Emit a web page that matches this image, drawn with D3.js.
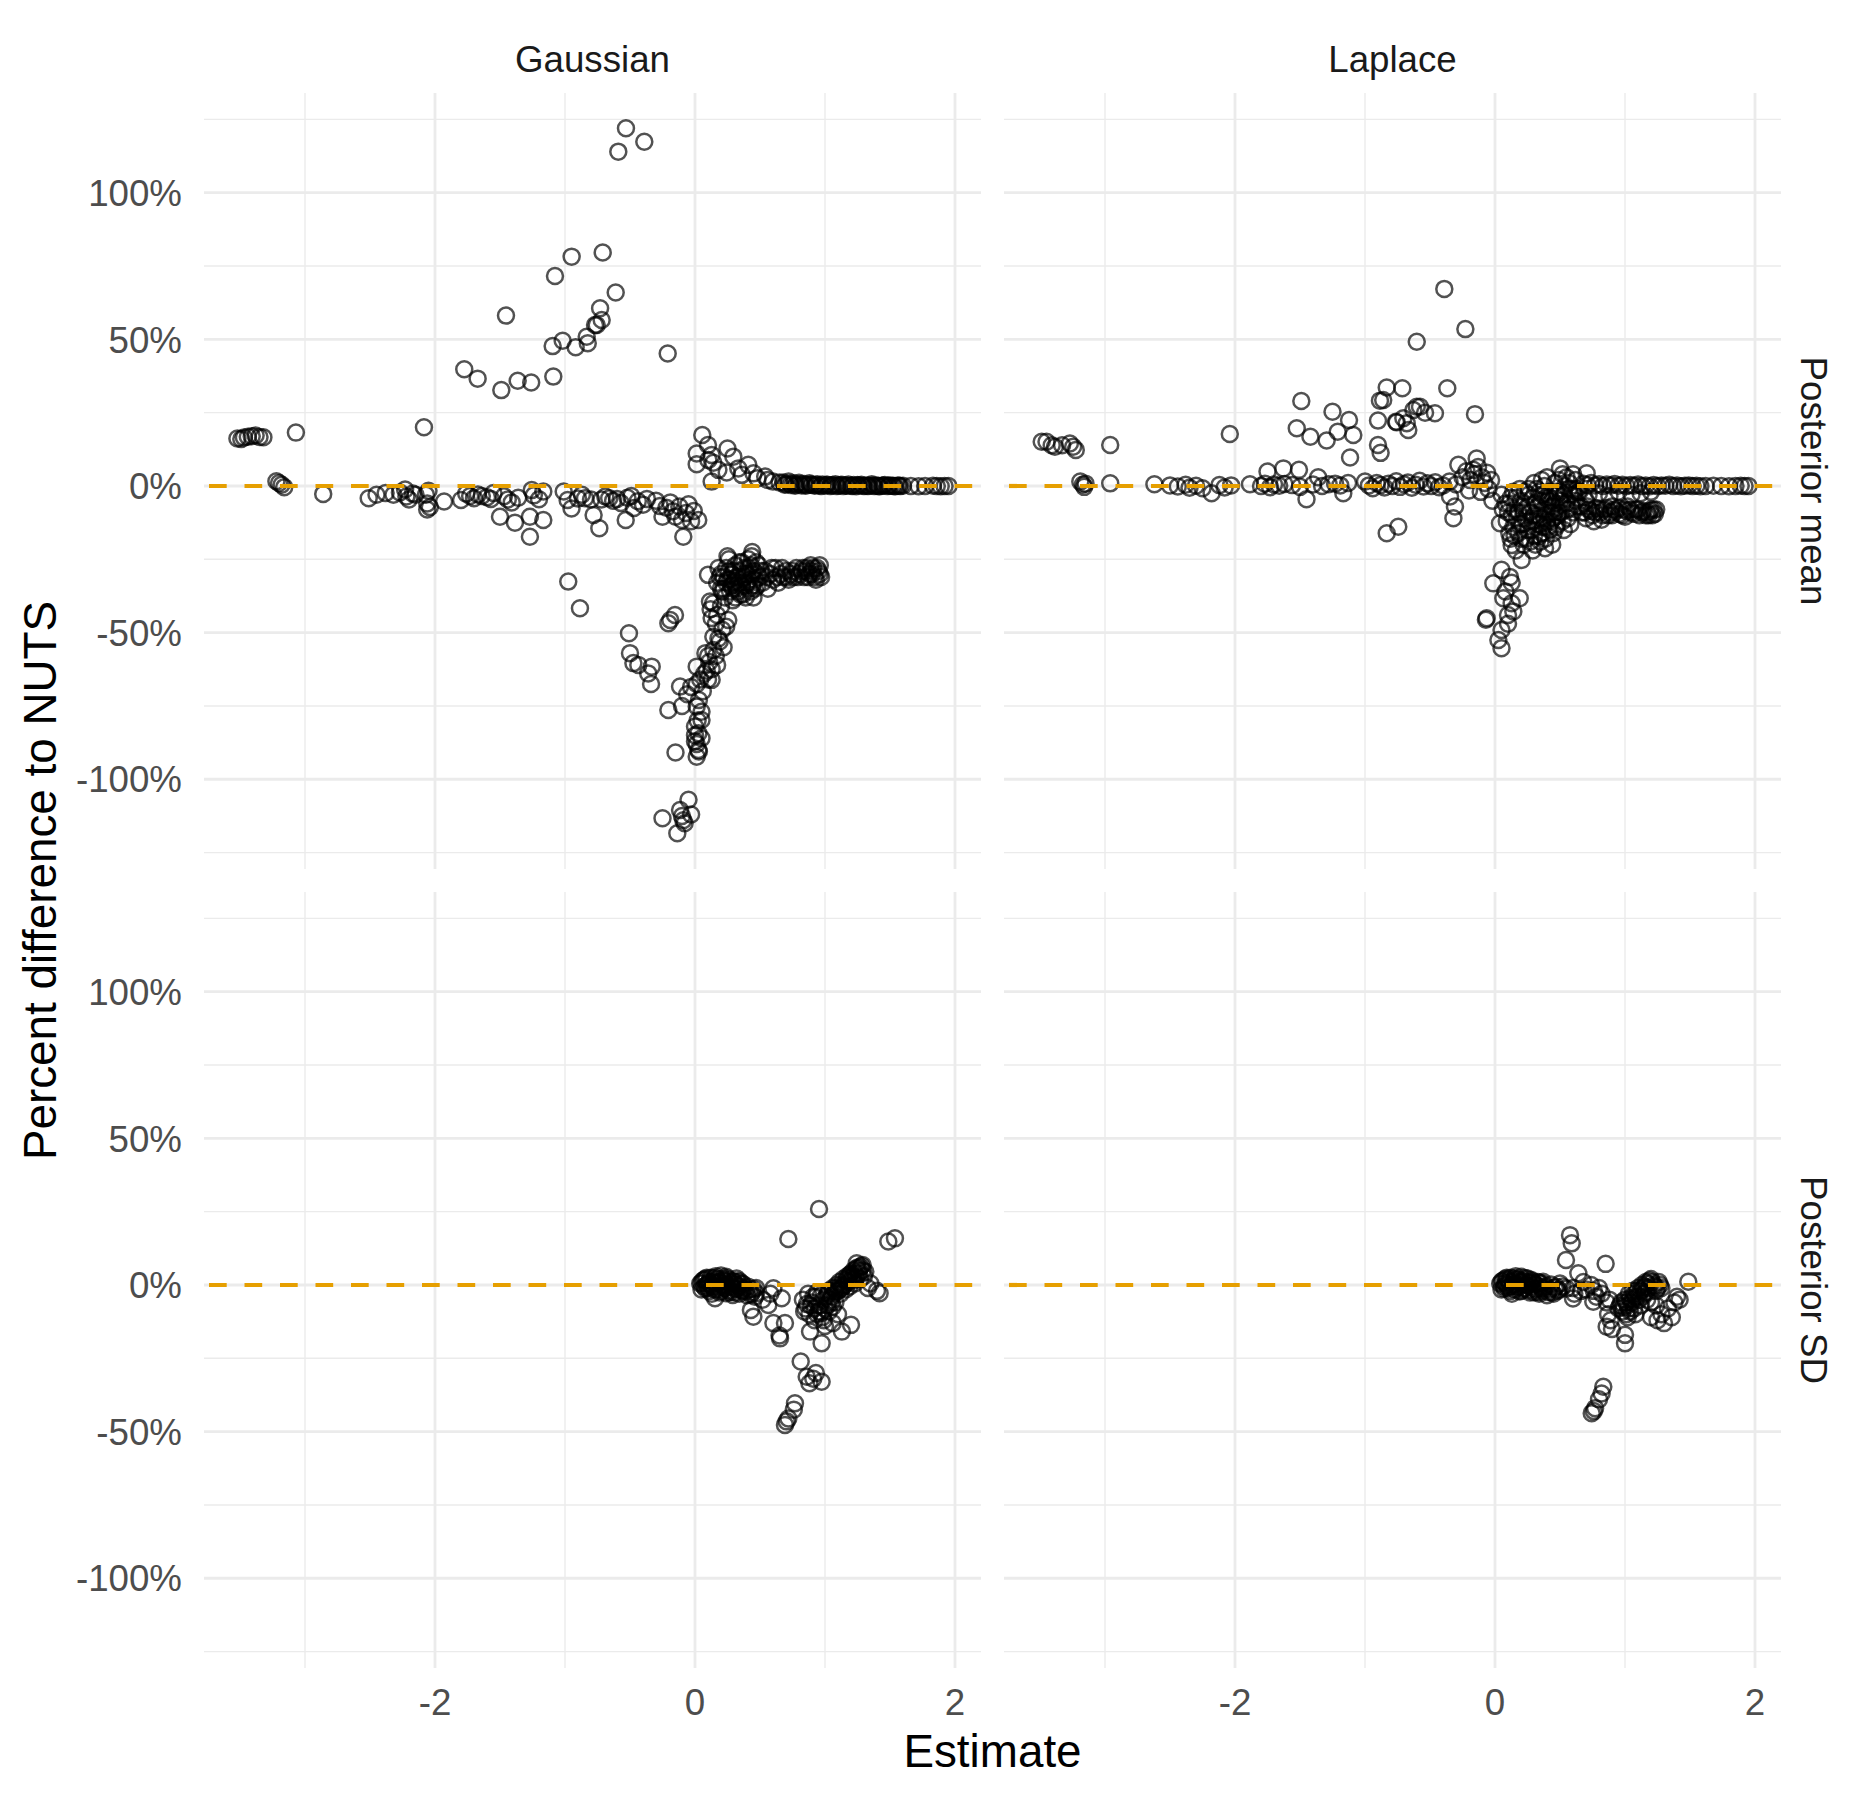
<!DOCTYPE html>
<html>
<head>
<meta charset="utf-8">
<script src="https://cdn.jsdelivr.net/npm/d3@7"></script>
<style>
  html, body { margin: 0; padding: 0; background: #fff; }
  text { font-family: "Liberation Sans", Arial, Helvetica, sans-serif; }
</style>
</head>
<body>
<svg id="chart" width="1875" height="1800"></svg>
<script>
// ---------------- data ----------------
const methods = ["Gaussian", "Laplace"];
const stats = ["Posterior mean", "Posterior SD"];
const xBreaks = [-2, 0, 2];
const xLabels = ["-2", "0", "2"];
const xMinor = [-3, -1, 1];
const yBreaks = [-100, -50, 0, 50, 100];
const yLabels = ["-100%", "-50%", "0%", "50%", "100%"];
const yMinor = [-125, -75, -25, 25, 75, 125];
const refLine = 0;

// [estimate, percent difference]
const gaussianMean = [
  [-3.52,16.2],[-3.49,16.0],[-3.47,16.5],[-3.44,16.8],[-3.41,17.0],[-3.38,17.2],[-3.35,16.7],[-3.32,16.6],[-3.07,18.2],
  [-3.22,1.6],[-3.20,1.0],[-3.18,0.4],[-3.16,-0.4],[-2.86,-2.7],[-2.085,20.0],
  [-1.775,39.8],[-1.672,36.6],[-1.49,32.7],[-1.454,58.1],[-1.364,35.9],[-1.26,35.3],[-1.09,37.3],[-1.077,71.6],[-0.949,78.2],
  [-1.095,47.7],[-1.018,49.5],[-0.918,47.3],[-0.833,50.9],[-0.825,48.7],[-0.769,54.9],[-0.73,60.6],[-0.71,79.6],[-0.59,114],
  [-0.531,122],[-0.39,117.4],[-0.61,66],[-0.718,56.6],[-0.756,54.9],[-0.21,45.2],
  [-2.51,-4.2],[-2.45,-3.0],[-2.38,-2.4],[-2.32,-3.0],[-2.27,-2.2],[-2.23,-1.2],[-2.22,-3.6],[-2.20,-4.6],[-2.17,-2.6],[-2.15,-3.0],
  [-2.07,-3.0],[-2.06,-6.0],[-2.06,-8.0],[-2.04,-7.2],[-2.05,-1.6],[-1.93,-5.3],[-1.80,-4.8],[-1.76,-2.6],[-1.73,-3.4],[-1.70,-4.2],
  [-1.67,-2.9],[-1.64,-3.4],[-1.60,-3.8],[-1.57,-4.4],[-1.55,-2.4],[-1.50,-10.5],[-1.47,-3.5],[-1.44,-4.6],[-1.41,-5.6],[-1.385,-12.5],
  [-1.36,-4.0],[-1.27,-10.5],[-1.27,-17.3],[-1.256,-1.4],[-1.24,-3.2],[-1.167,-11.6],[-1.167,-1.9],[-1.20,-4.5],
  [-1.01,-1.9],[-0.98,-4.8],[-0.95,-7.7],[-0.90,-4.3],[-0.87,-3.0],[-0.846,-4.2],[-0.80,-4.6],[-0.78,-9.9],[-0.736,-14.4],[-0.72,-4.6],
  [-0.69,-3.6],[-0.66,-4.2],[-0.63,-5.0],[-0.60,-4.4],[-0.57,-5.8],[-0.533,-11.6],[-0.52,-4.0],[-0.49,-3.4],[-0.47,-7.5],[-0.44,-5.2],
  [-0.40,-6.4],[-0.37,-4.4],[-0.30,-5.0],[-0.27,-6.8],[-0.25,-10.5],[-0.22,-7.4],[-0.19,-5.6],[-0.17,-8.6],[-0.15,-10.5],[-0.12,-7.0],
  [-0.10,-11.6],[-0.09,-17.3],[-0.07,-9.2],[-0.05,-6.2],[-0.03,-12.0],[-0.01,-8.5],[0.025,-11.6],
  [-0.975,-32.6],[-0.885,-41.7],
  [0.056,17.4],[0.10,14.0],[0.013,11.1],[0.128,10.6],[0.013,7.4],[0.103,8.9],[0.141,7.9],[0.128,1.5],[0.25,12.8],[0.295,10.0],
  [0.244,4.6],[0.333,6.0],[0.41,7.2],[0.45,4.3],[0.54,3.2],[0.60,1.5],[0.18,5.5],[0.36,3.8],[0.48,2.6],[0.56,2.0],[0.65,1.2],
  [0.68,1.2],[0.70,0.6],[0.72,1.5],[0.74,0.3],[0.76,0.9],[0.78,0.4],[0.80,1.1],[0.82,0.2],[0.84,0.7],[0.86,0.3],[0.88,0.9],[0.90,0.4],
  [0.92,0.1],[0.94,0.6],[0.96,0.2],[0.98,0.5],[1.00,0.1],[1.02,0.4],[1.04,0.0],[1.06,0.3],[1.08,0.6],[1.10,0.1],[1.12,0.3],[1.14,0.0],
  [1.16,0.2],[1.18,0.5],[1.20,0.1],[1.22,0.3],[1.24,-0.1],[1.26,0.2],[1.28,0.4],[1.30,0.0],[1.32,0.2],[1.34,0.1],[1.36,0.6],[1.38,0.0],
  [1.40,0.2],[1.42,-0.1],[1.44,0.1],[1.46,0.3],[1.48,0.0],[1.50,0.2],[1.52,0.1],[1.54,-0.1],[1.56,0.2],[1.58,0.0],[1.60,0.1],[1.66,0.0],
  [1.72,-0.1],[1.77,0.0],[1.83,0.1],[1.86,0.0],[1.89,-0.1],[1.92,0.0],[1.95,0.0],
  [0.69,0.4],[0.73,0.8],[0.77,0.1],[0.81,0.6],[0.85,0.1],[0.89,0.5],[0.93,0.3],[0.97,0.0],[1.01,0.4],[1.05,0.2],[1.09,0.0],[1.13,0.4],
  [1.17,0.1],[1.21,0.0],[1.25,0.3],[1.29,0.1],[1.33,0.0],[1.37,0.2],[1.41,0.0],[1.45,0.2],[1.49,0.1],[1.53,0.0],[1.57,0.1],
  [0.17,-33],[0.20,-30],[0.22,-35],[0.24,-28],[0.25,-32],[0.27,-36],[0.28,-30],[0.30,-33],[0.31,-27],[0.32,-35],[0.33,-31],[0.35,-29],
  [0.36,-34],[0.37,-37],[0.38,-31],[0.40,-33],[0.41,-28],[0.42,-35],[0.44,-30],[0.45,-38],[0.46,-32],[0.47,-26],[0.48,-34],[0.23,-38],
  [0.26,-25],[0.29,-39],[0.34,-26],[0.39,-38],[0.43,-27],[0.21,-36],[0.19,-31],[0.28,-34],[0.33,-36],[0.38,-28],
  [0.18,-28],[0.20,-35],[0.22,-31],[0.24,-33],[0.26,-29],[0.27,-32],[0.29,-35],[0.30,-29],[0.32,-31],[0.34,-33],[0.35,-37],[0.37,-30],
  [0.39,-34],[0.40,-30],[0.42,-32],[0.43,-36],[0.45,-29],[0.46,-35],[0.48,-30],[0.49,-27],[0.31,-38],[0.36,-26],[0.41,-25],[0.44,-34],
  [0.10,-30.3],[0.25,-24],[0.436,-24],[0.44,-22.5],
  [0.50,-31],[0.52,-33],[0.54,-29],[0.56,-35],[0.58,-30],[0.60,-32],[0.62,-28],[0.64,-33],[0.66,-30],[0.68,-31],[0.70,-29],[0.72,-32],
  [0.74,-30],[0.76,-31],[0.78,-28],[0.80,-30],[0.82,-29],[0.84,-31],[0.86,-28],[0.88,-30],[0.90,-29],[0.92,-31],[0.94,-28],[0.96,-30],
  [0.89,-27],[0.93,-32],[0.85,-29],[0.91,-28],
  [0.51,-29],[0.55,-31],[0.59,-28],[0.63,-31],[0.67,-28],[0.71,-31],[0.75,-29],[0.79,-31],[0.83,-28],[0.87,-31],[0.90,-30],[0.95,-29],
  [0.97,-31],[0.96,-27],
  [0.115,-39.4],[0.12,-42],[0.128,-45],[0.256,-45.7],[0.24,-48],[0.141,-51.4],[0.19,-53],[0.22,-55],[0.141,-55.9],[0.10,-58],[0.17,-61],
  [0.013,-61.6],[0.128,-62.5],[0.07,-64],[0.128,-66.1],[0.013,-67.5],[-0.03,-68.5],[-0.115,-68.4],[-0.06,-71],[0.013,-75.2],[-0.205,-76.4],
  [-0.10,-75],[0.05,-79.8],[0.0,-82],[0.026,-84.3],[0.0,-87],[0.013,-88],[0.026,-90],[0.013,-92.3],[-0.15,-90.9],[0.05,-86],[0.08,-57],
  [0.16,-47],[0.20,-41],[0.06,-70],[0.03,-73],
  [0.14,-40],[0.17,-44],[0.21,-49],[0.18,-52],[0.16,-58],[0.11,-60],[0.09,-63],[0.10,-66],[0.04,-66],[0.05,-77],[0.02,-80],[0.03,-90.5],[0.0,-85],
  [-0.19,-45.7],[-0.154,-44.0],[-0.205,-46.8],[-0.508,-50.2],[-0.50,-57],[-0.474,-60.4],[-0.436,-61],[-0.333,-61.6],[-0.36,-63.9],[-0.338,-67.5],
  [-0.25,-113.3],[-0.05,-107],[-0.115,-110.5],[-0.03,-112],[-0.09,-114],[-0.136,-118.4],[-0.08,-115],[-0.10,-112.5]
];

const laplaceMean = [
  [-3.487,15.1],[-3.45,15.1],[-3.41,13.9],[-3.385,13.4],[-3.33,13.9],[-3.27,14.5],[-3.245,13.4],[-3.225,12.3],[-2.96,14.0],
  [-3.19,1.5],[-3.17,0.5],[-3.16,-0.3],[-3.15,0.8],[-2.96,0.9],[-2.62,0.6],
  [-2.50,0.2],[-2.44,-0.2],[-2.38,0.4],[-2.35,-0.6],[-2.30,0.1],[-2.25,-0.8],[-2.18,-2.5],[-2.12,0.3],[-2.08,-0.5],[-2.03,0.2],
  [-2.04,17.7],[-1.885,0.6],[-1.80,0.0],[-1.77,0.8],[-1.73,-0.4],[-1.70,0.5],[-1.66,0.1],[-1.62,0.7],[-1.75,4.9],[-1.628,6.0],
  [-1.508,5.5],[-1.45,-4.5],[-1.525,19.7],[-1.49,29.0],[-1.42,16.8],[-1.36,3.0],[-1.295,15.5],[-1.25,25.3],[-1.21,18.5],[-1.123,22.5],
  [-1.09,17.4],[-1.115,9.7],[-1.167,-2.5],[-1.23,0.8],[-1.19,0.2],[-1.13,1.0],[-1.56,0.3],[-1.50,-0.3],[-1.40,0.5],[-1.33,0.0],[-1.28,0.6],
  [-1.00,1.5],[-0.97,0.2],[-0.94,-0.8],[-0.91,1.0],[-0.88,0.3],[-0.85,-0.5],[-0.82,0.8],[-0.79,0.0],[-0.76,1.6],[-0.73,-0.3],
  [-0.70,0.6],[-0.67,1.2],[-0.64,-0.6],[-0.61,0.4],[-0.58,1.8],[-0.55,-0.2],[-0.52,0.9],[-0.49,0.0],[-0.46,1.3],[-0.43,-0.4],
  [-0.90,22.3],[-0.90,14.0],[-0.885,29.1],[-0.833,33.6],[-0.713,33.3],[-0.762,21.9],[-0.705,23.1],[-0.667,19.1],[-0.628,25.9],
  [-0.602,27.0],[-0.602,49.2],[-0.86,29.3],[-0.756,21.7],[-0.679,21.4],[-0.577,27],[-0.538,25],[-0.462,24.8],[-0.88,11.3],
  [-0.39,67.2],[-0.228,53.5],[-0.367,33.3],[-0.154,24.5],
  [-0.833,-16.1],[-0.744,-13.9],
  [-0.346,-3.6],[-0.308,-7.0],[-0.32,-11.0],[-0.282,7.2],[-0.141,9.4],[-0.167,5.5],[-0.25,3],[-0.22,5],[-0.19,2],[-0.16,4],
  [-0.13,6.5],[-0.10,3],[-0.08,1],[-0.06,4.5],[-0.03,2],[-0.11,-2],[-0.05,-1],[-0.02,-5],[-0.20,-1.5],[-0.30,0.5],[-0.35,1.5],[-0.40,0.2],
  [0.038,-12.7],[0.128,-20.1],[0.205,-25.2],[0.385,-21.2],[0.05,-3],[0.08,-6],[0.10,-9],[0.12,-4],[0.14,-14],[0.15,-8],[0.17,-11],
  [0.18,-16],[0.20,-5],[0.21,-13],[0.22,-9],[0.24,-18],[0.25,-7],[0.26,-12],[0.28,-15],[0.29,-4],[0.30,-10],[0.31,-20],[0.32,-13],
  [0.33,-7],[0.34,-17],[0.35,-11],[0.36,-3],[0.37,-14],[0.38,-8],[0.39,-18],[0.40,-12],[0.41,-5],[0.42,-15],[0.43,-9],[0.44,-20],
  [0.45,-11],[0.46,-6],[0.47,-14],[0.48,-3],[0.49,-9],[0.16,-22],[0.27,-19],[0.23,-2],[0.19,-1],[0.11,-16],
  [0.06,-8],[0.09,-12],[0.11,-6],[0.13,-10],[0.15,-17],[0.16,-4],[0.18,-9],[0.19,-13],[0.21,-7],[0.22,-20],[0.23,-11],[0.25,-15],
  [0.26,-3],[0.27,-9],[0.29,-12],[0.30,-17],[0.31,-6],[0.33,-10],[0.34,-13],[0.35,-5],[0.36,-16],[0.38,-11],[0.39,-4],[0.40,-8],
  [0.41,-14],[0.42,-2],[0.43,-12],[0.44,-5],[0.46,-9],[0.47,-2],[0.48,-13],[0.50,-5],[0.51,-9],[0.53,-3],[0.55,-6],[0.57,-1],
  [0.59,-7],[0.61,-3],[0.63,-1],[0.45,-16],[0.35,-19],[0.29,-22],[0.20,-18],[0.12,-18],[0.14,-2],[0.32,-1],[0.49,2],[0.52,4],[0.57,1],[0.62,2],
  [0.05,-28.6],[-0.013,-33.2],[0.115,-31],[0.128,-33],[0.19,-38.3],[0.064,-38.3],[0.128,-40],[0.141,-42.8],[-0.064,-45.1],
  [-0.07,-45.6],[0.10,-44],[0.05,-49.1],[0.026,-52.5],[0.05,-55.3],[0.08,-36],[0.10,-47],
  [0.50,6],[0.55,3],[0.60,4],[0.705,4.3],[0.26,-1],[0.30,1],[0.34,-2],[0.38,0],[0.42,-4],[0.46,1],[0.50,-2],[0.52,-6],[0.54,0],
  [0.56,-8],[0.58,-3],[0.60,-1],[0.62,-5],[0.64,-2],[0.44,-7],[0.48,-10],[0.52,-12],[0.56,-11],[0.60,-9],[0.64,-7],[0.36,2],[0.40,3],
  [0.53,-15],[0.58,-13],
  [0.66,-7],[0.69,-9],[0.72,-8],[0.75,-10],[0.78,-7.5],[0.81,-9],[0.84,-8],[0.87,-10],[0.90,-7],[0.93,-8.5],[0.96,-9.5],[0.99,-8],
  [1.02,-7],[1.05,-9],[1.08,-8],[1.11,-10],[1.14,-8.5],[1.17,-9],[1.20,-8],[1.23,-9.5],[1.24,-8],[0.70,-11],[0.76,-12],[0.82,-11.5],
  [0.70,-5],[1.00,-10.5],[1.18,-10],[0.90,-10],
  [0.67,-9],[0.71,-7],[0.74,-8.5],[0.77,-9],[0.80,-8],[0.83,-10],[0.86,-7.5],[0.89,-9],[0.92,-8],[0.95,-7.5],[0.98,-10],[1.01,-8.5],
  [1.04,-8],[1.07,-9.5],[1.10,-8],[1.13,-9],[1.16,-10],[1.19,-8.5],[1.22,-8],[1.21,-10],
  [0.65,-2],[0.72,-3],[0.80,-2.5],[0.88,-3.5],[0.95,-2],[1.05,-3],[1.12,-2.5],[1.20,-2],
  [0.68,0.8],[0.71,0.3],[0.74,1.0],[0.77,0.2],[0.80,0.6],[0.83,0.0],[0.86,0.5],[0.89,0.2],[0.92,0.7],[0.95,0.1],[0.98,0.4],[1.01,0.0],
  [1.04,0.3],[1.07,0.1],[1.10,0.5],[1.13,0.0],[1.16,0.2],[1.19,-0.1],[1.22,0.3],[1.25,0.0],[1.28,0.2],[1.31,0.1],[1.34,0.4],[1.37,0.0],
  [1.40,0.2],[1.43,-0.1],[1.46,0.1],[1.49,0.2],[1.52,0.0],[1.55,0.1],[1.58,-0.1],[1.62,0.0],[1.68,0.1],[1.74,0.0],[1.80,-0.1],
  [1.85,0.0],[1.89,0.1],[1.92,0.0],[1.95,0.0]
];

const gaussianSD = [
  [0.04,0.5],[0.06,1.5],[0.07,-0.5],[0.08,2],[0.09,0],[0.10,-1],[0.11,1],[0.12,2.5],[0.13,-0.3],[0.14,1.2],[0.15,-1.5],[0.16,0.5],
  [0.17,2],[0.18,-0.8],[0.19,1],[0.20,-2],[0.21,0.3],[0.22,1.5],[0.23,-1],[0.24,0],[0.25,2.2],[0.26,-1.8],[0.27,0.8],[0.28,-0.5],
  [0.29,1.3],[0.30,-2.5],[0.31,0.2],[0.32,-1.2],[0.33,1],[0.34,-3],[0.35,-0.5],[0.36,0.5],[0.37,-2],[0.38,-1],[0.40,-3.5],[0.42,-1.5],
  [0.44,-2.5],[0.46,-4],[0.13,-3],[0.16,3],[0.20,3.2],[0.24,2.8],[0.09,2.5],[0.05,-1.5],
  [0.05,0.8],[0.07,1.8],[0.08,-1.2],[0.10,0.6],[0.11,-2],[0.12,0.2],[0.14,-0.8],[0.15,2.4],[0.17,-1.6],[0.18,0.9],[0.19,-2.6],[0.21,2.1],
  [0.22,-0.4],[0.23,1.1],[0.25,-0.9],[0.26,1.6],[0.27,-2.4],[0.28,0.7],[0.30,1.2],[0.31,-1.4],[0.33,-0.3],[0.34,1.4],[0.36,-1.8],[0.37,0.3],
  [0.39,-2.2],[0.41,-0.6],[0.43,-3.2],[0.45,-1.4],[0.47,-2.8],[0.32,2.2],[0.29,-3.4],[0.24,-2.8],
  [0.154,-4.5],[0.449,-10.8],[0.43,-8.5],[0.47,-1],[0.564,-6.8],[0.603,-1.1],[0.667,-4.5],[0.603,-13],[0.692,-13],[0.654,-18.2],
  [0.65,-17.2],[0.52,-5],[0.58,-3],
  [0.718,15.7],[0.954,25.9],[0.813,-26.1],[0.859,-31.3],[0.91,-32],[0.93,-30],[0.974,-33],[0.88,-33.5],
  [0.769,-40.3],[0.76,-42.5],[0.718,-45.5],[0.692,-47.7],[0.705,-46.5],
  [0.83,-5],[0.85,-8],[0.87,-3],[0.88,-10],[0.90,-6],[0.92,-12],[0.93,-4],[0.95,-9],[0.96,-7],[0.98,-11],[0.99,-5],[1.00,-8],
  [0.86,-6.5],[0.94,-2.5],[0.97,-3.5],[0.84,-9],[0.89,-7],[0.91,-4],[0.94,-10],[0.97,-9.5],[0.99,-12],[0.92,-8],
  [0.885,-15.9],[0.974,-19.9],[1.00,-14],[1.06,-13],[1.13,-15.9],[1.20,-13.6],[1.10,-10],[1.03,-9],[1.06,-7.4],
  [1.01,-4],[1.03,-2],[1.04,-5],[1.06,-1],[1.07,-3],[1.09,0],[1.10,-2],[1.11,1],[1.13,-1],[1.14,2],[1.15,0],[1.17,3],[1.18,1],
  [1.20,4],[1.21,2],[1.22,5],[1.24,3],[1.25,6],[1.26,4],[1.28,6.5],[1.29,5],[1.30,3],[1.244,7.4],[1.12,-3],[1.16,-1.5],[1.19,-0.5],
  [1.23,0.5],[1.27,2],[1.31,4.5],[1.08,-6],
  [1.02,-3],[1.05,-4],[1.08,-2],[1.09,-1],[1.12,0],[1.14,-0.5],[1.16,1.5],[1.18,2.5],[1.19,3.5],[1.21,3],[1.23,4],[1.24,5.5],
  [1.26,5],[1.27,6],[1.29,6.8],[1.22,1.5],[1.11,-1.5],[1.05,-6],[1.02,-7],
  [1.40,-2],[1.42,-2.8],[1.487,14.8],[1.538,15.9],[1.35,0.5],[1.33,-1]
];

const laplaceSD = [
  [0.04,0.5],[0.06,1.5],[0.07,-0.5],[0.08,2],[0.09,0],[0.10,-1],[0.11,1],[0.12,2.5],[0.13,-0.3],[0.14,1.2],[0.15,-1.5],[0.16,0.5],
  [0.17,2],[0.18,-0.8],[0.19,1],[0.20,-2],[0.21,0.3],[0.22,1.5],[0.23,-1],[0.24,0],[0.25,2.2],[0.26,-1.8],[0.27,0.8],[0.28,-0.5],
  [0.29,1.3],[0.30,-2.5],[0.31,0.2],[0.32,-1.2],[0.33,1],[0.34,-3],[0.35,-0.5],[0.36,0.5],[0.37,-2],[0.38,-1],[0.40,-3.5],[0.42,-1.5],
  [0.44,-2.5],[0.46,-1],[0.48,-2],[0.50,0.5],[0.13,-3],[0.16,3],[0.20,2.8],[0.09,2.5],[0.05,-1.5],
  [0.05,1.2],[0.07,-1.2],[0.08,0.6],[0.10,1.8],[0.11,-0.6],[0.12,-2],[0.14,0.2],[0.15,2.2],[0.17,-0.4],[0.18,1.6],[0.19,-2.2],[0.21,1.2],
  [0.22,-1.4],[0.23,2.4],[0.25,-0.2],[0.26,0.9],[0.27,-2.6],[0.28,1.7],[0.30,0.4],[0.31,-1.6],[0.33,-2.4],[0.34,0.8],[0.36,-1.2],[0.37,1.1],
  [0.39,-0.4],[0.41,-2.4],[0.43,0.2],[0.45,-3],[0.47,-0.6],[0.49,-1.6],[0.52,-0.5],[0.55,-1.2],
  [0.577,17],[0.59,14.2],[0.546,8.5],[0.641,4],[0.851,7.2],[0.60,-1],[0.61,-3],[0.60,-4.6],[0.74,0],[0.76,-2],[0.78,-4],[0.80,-1],
  [0.82,-3],[0.756,-5.7],[0.70,-1.5],[0.68,1],[0.66,-2],
  [0.86,-6],[0.88,-5],[0.859,-14.2],[0.90,-15],[1.00,-19.9],[1.00,-17],[0.87,-10],[0.89,-12],
  [0.95,-8],[0.97,-6],[0.98,-9],[1.00,-5],[1.02,-7],[1.03,-3],[1.05,-6],[1.06,-2],[1.08,-4],[1.10,-1],[1.11,-5],[1.13,0],[1.15,-3],
  [1.16,1],[1.18,-1],[1.20,2],[1.22,0],[1.24,-2],[1.26,1],[1.28,-1],[1.01,-10],[1.04,-9],[1.07,-8],[1.12,-7],[1.17,-5],
  [0.96,-7],[0.99,-7.5],[1.01,-6],[1.03,-8],[1.04,-4.5],[1.06,-5],[1.07,-3],[1.09,-2],[1.10,-4],[1.12,-2],[1.14,-1],[1.15,-0.5],
  [1.17,0.5],[1.19,1.5],[1.21,1],[1.23,-0.5],[1.25,-1],[1.27,0],[1.13,-4],[1.16,-2.5],[1.20,-6],[1.24,-7],[1.02,-11],[1.08,-10],
  [1.20,-11],[1.25,-12],[1.30,-13],[1.36,-11],[1.28,-10],[1.33,-8],[1.38,-6],[1.40,-4],[1.42,-5],
  [1.487,1.1],
  [0.833,-34.7],[0.82,-37],[0.80,-39],[0.77,-42],[0.744,-43.7],[0.76,-43]
];

const panelData = [
  [gaussianMean, laplaceMean],
  [gaussianSD, laplaceSD]
];

// ---------------- layout ----------------
const svg = d3.select("#chart");
const panelLeft = [204, 1004];
const panelTop = [93, 892];
const panelW = 777, panelH = 776;

const x = d3.scaleLinear().domain([-3.777, 2.2]).range([0, panelW]);
const y = d3.scaleLinear().domain([-130.6, 134.0]).range([panelH, 0]);

const gridCol = "#EBEBEB";
const font = '"Liberation Sans", Arial, Helvetica, sans-serif';

svg.append("rect").attr("width", 1875).attr("height", 1800).attr("fill", "#fff");

stats.forEach((st, r) => {
  methods.forEach((m, c) => {
    const g = svg.append("g").attr("transform", `translate(${panelLeft[c]},${panelTop[r]})`);
    // minor grid
    g.selectAll(".vminor").data(xMinor).join("line")
      .attr("x1", d => x(d)).attr("x2", d => x(d)).attr("y1", 0).attr("y2", panelH)
      .attr("stroke", gridCol).attr("stroke-width", 1.4);
    g.selectAll(".hminor").data(yMinor.filter(v => v >= y.domain()[0] && v <= y.domain()[1])).join("line")
      .attr("x1", 0).attr("x2", panelW).attr("y1", d => y(d)).attr("y2", d => y(d))
      .attr("stroke", gridCol).attr("stroke-width", 1.4);
    // major grid
    g.selectAll(".vmajor").data(xBreaks).join("line")
      .attr("x1", d => x(d)).attr("x2", d => x(d)).attr("y1", 0).attr("y2", panelH)
      .attr("stroke", gridCol).attr("stroke-width", 2.8);
    g.selectAll(".hmajor").data(yBreaks).join("line")
      .attr("x1", 0).attr("x2", panelW).attr("y1", d => y(d)).attr("y2", d => y(d))
      .attr("stroke", gridCol).attr("stroke-width", 2.8);

    // points
    g.selectAll("circle").data(panelData[r][c]).join("circle")
      .attr("cx", d => x(d[0])).attr("cy", d => y(d[1])).attr("r", 8)
      .attr("fill", "none").attr("stroke", "#000").attr("stroke-opacity", 0.68).attr("stroke-width", 2.5);

    // dashed reference line
    g.append("line")
      .attr("x1", 0).attr("x2", panelW).attr("y1", y(refLine)).attr("y2", y(refLine))
      .attr("stroke", "#E69F00").attr("stroke-width", 4.2)
      .attr("stroke-dasharray", "17.7 17.8").attr("stroke-dashoffset", 30.5);

    // x tick labels (bottom row only)
    if (r === 1) {
      g.selectAll(".xt").data(xBreaks).join("text")
        .attr("x", d => x(d)).attr("y", 1715 - panelTop[r])
        .attr("text-anchor", "middle").attr("font-size", 36.7).attr("fill", "#4D4D4D")
        .style("font-family", font)
        .text((d, i) => xLabels[i]);
    }
    // y tick labels (left column only)
    if (c === 0) {
      g.selectAll(".yt").data(yBreaks).join("text")
        .attr("x", 182 - panelLeft[c]).attr("y", d => y(d)).attr("dy", "0.36em")
        .attr("text-anchor", "end").attr("font-size", 36.7).attr("fill", "#4D4D4D")
        .style("font-family", font)
        .text((d, i) => yLabels[i]);
    }
  });
});

// strip labels top
methods.forEach((m, c) => {
  svg.append("text")
    .attr("x", panelLeft[c] + panelW / 2).attr("y", 72)
    .attr("text-anchor", "middle").attr("font-size", 36.7).attr("fill", "#1A1A1A")
    .style("font-family", font).text(m);
});
// strip labels right
stats.forEach((s, r) => {
  const cy = panelTop[r] + panelH / 2;
  svg.append("text")
    .attr("transform", `translate(1801,${cy}) rotate(90)`)
    .attr("text-anchor", "middle").attr("font-size", 36.7).attr("fill", "#1A1A1A")
    .style("font-family", font).text(s);
});

// axis titles
svg.append("text")
  .attr("x", (panelLeft[0] + panelLeft[1] + panelW) / 2).attr("y", 1767)
  .attr("text-anchor", "middle").attr("font-size", 45.8).attr("fill", "#000")
  .style("font-family", font).text("Estimate");
svg.append("text")
  .attr("transform", `translate(56,${(panelTop[0] + panelTop[1] + panelH) / 2}) rotate(-90)`)
  .attr("text-anchor", "middle").attr("font-size", 45.8).attr("fill", "#000")
  .style("font-family", font).text("Percent difference to NUTS");
</script>
</body>
</html>
